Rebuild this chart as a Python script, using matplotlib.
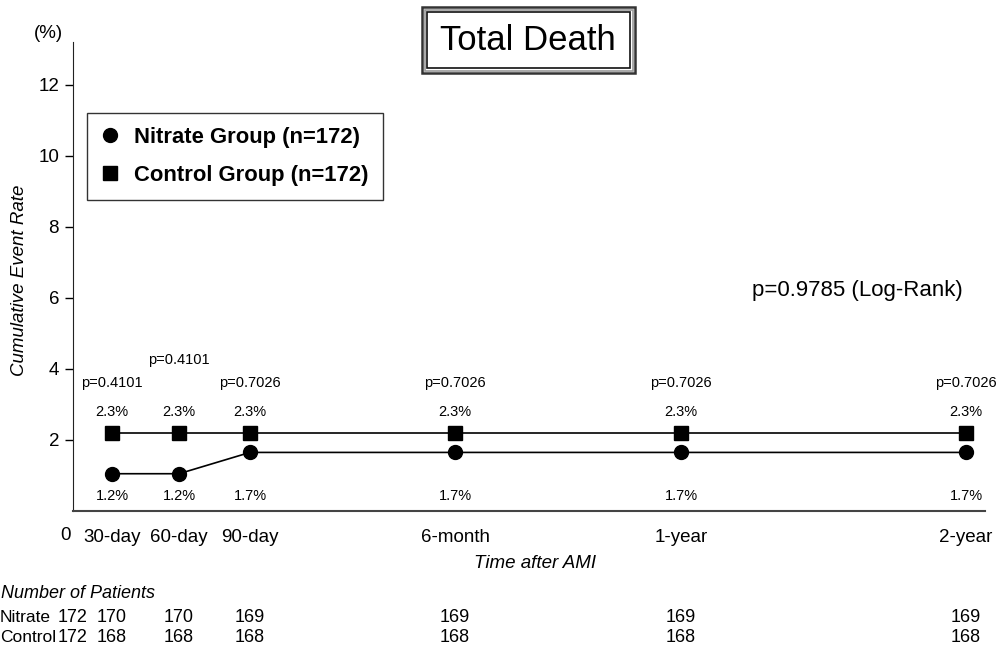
import matplotlib.pyplot as plt
from matplotlib.patches import Rectangle

plt.rcParams['font.family'] = ['Liberation Sans', 'DejaVu Sans']

# time points (spacing follows the original, not to scale)
time_labels = ['30-day', '60-day', '90-day', '6-month', '1-year', '2-year']
time_pos = [39, 106, 177, 382, 608, 893]

# plotted event rates (%)
nitrate = [1.05, 1.05, 1.65, 1.65, 1.65, 1.65]
control = [2.2, 2.2, 2.2, 2.2, 2.2, 2.2]
nitrate_lbl = ['1.2%', '1.2%', '1.7%', '1.7%', '1.7%', '1.7%']
control_lbl = ['2.3%', '2.3%', '2.3%', '2.3%', '2.3%', '2.3%']
p_values = ['p=0.4101', 'p=0.4101', 'p=0.7026', 'p=0.7026', 'p=0.7026', 'p=0.7026']
p_height = [3.6, 4.25, 3.6, 3.6, 3.6, 3.6]

# number at risk: baseline + each time point
risk_pos = [0] + time_pos
nitrate_n = [172, 170, 170, 169, 169, 169, 169]
control_n = [172, 168, 168, 168, 168, 168, 168]

fig = plt.figure(figsize=(9.96, 6.48), dpi=100)
ax = fig.add_axes([73/996, 1 - 511/648, 912/996, 469/648])

ax.plot(time_pos, control, color='black', lw=1.2, marker='s', ms=10.5,
        label='Control Group (n=172)')
ax.plot(time_pos, nitrate, color='black', lw=1.2, marker='o', ms=10,
        label='Nitrate Group (n=172)')

for x, yc, lc, ln, p, ph in zip(time_pos, control, control_lbl, nitrate_lbl, p_values, p_height):
    ax.text(x, yc + 0.6, lc, ha='center', va='center', fontsize=10.5)
    ax.text(x, 0.42, ln, ha='center', va='center', fontsize=10.5)
    ax.text(x, ph, p, ha='center', va='center', fontsize=10.5)

ax.text(784, 6.2, 'p=0.9785 (Log-Rank)', ha='center', va='center', fontsize=16)

ax.set_xlim(0, 912)
ax.set_ylim(0, 13.21)
ax.set_xticks(time_pos)
ax.set_xticklabels(time_labels, fontsize=13.5)
ax.tick_params(axis='x', length=0, pad=13)
ax.set_yticks([2, 4, 6, 8, 10, 12])
ax.tick_params(axis='y', length=6, width=1, labelsize=13.5, pad=4)
ax.spines['top'].set_visible(False)
ax.spines['right'].set_visible(False)
ax.spines['left'].set_color('#222222')
ax.spines['bottom'].set_color('#444444')
ax.spines['bottom'].set_linewidth(1.5)

ax.set_ylabel('Cumulative Event Rate', fontsize=13.5, style='italic')
ax.yaxis.set_label_coords(-(73 - 28) / 912, (511 - 280) / 469)
fig.text(48/996, 1 - 33/648, '(%)', ha='center', va='center', fontsize=13.5)
fig.text(65/996, 1 - 535/648, '0', ha='center', va='center', fontsize=13.5)
fig.text(535/996, 1 - 564/648, 'Time after AMI', ha='center', va='center',
         fontsize=13.5, style='italic')

# legend (nitrate first)
h, l = ax.get_legend_handles_labels()
leg = ax.legend(h[::-1], l[::-1], loc='upper left', bbox_to_anchor=(0.015, 0.849),
                borderaxespad=0, fancybox=False, edgecolor='black',
                prop={'weight': 'bold', 'size': 15.8}, handlelength=0.8,
                handletextpad=0.7, borderpad=0.65, labelspacing=0.75)
leg.get_frame().set_linewidth(1.0)
for line in leg.get_lines():
    line.set_linestyle('none')

# title with triple border
fig.text(528/996, 1 - 40/648, 'Total Death', ha='center', va='center', fontsize=25)
for inset, col, lw in [(0, '#333333', 1.8), (2.5, '#999999', 1.2), (5, '#111111', 1.2)]:
    fig.patches.append(Rectangle(((422 + inset)/996, 1 - (73 - inset)/648),
                                 (213 - 2*inset)/996, (66 - 2*inset)/648,
                                 transform=fig.transFigure, fill=False,
                                 edgecolor=col, lw=lw))

# number of patients table
fig.text(0.001, 1 - 593/648, 'Number of Patients', ha='left', va='center',
         fontsize=13, style='italic')
trans = ax.get_xaxis_transform()
for row_y, name, counts in [(617, 'Nitrate', nitrate_n), (638, 'Control', control_n)]:
    fig.text(0.0, 1 - row_y/648, name, ha='left', va='center', fontsize=12.5)
    yy = -(row_y - 511) / 469
    for x, n in zip(risk_pos, counts):
        ax.text(x, yy, str(n), ha='center', va='center', fontsize=13,
                transform=trans, clip_on=False)

fig.savefig('out.png', dpi=100)
